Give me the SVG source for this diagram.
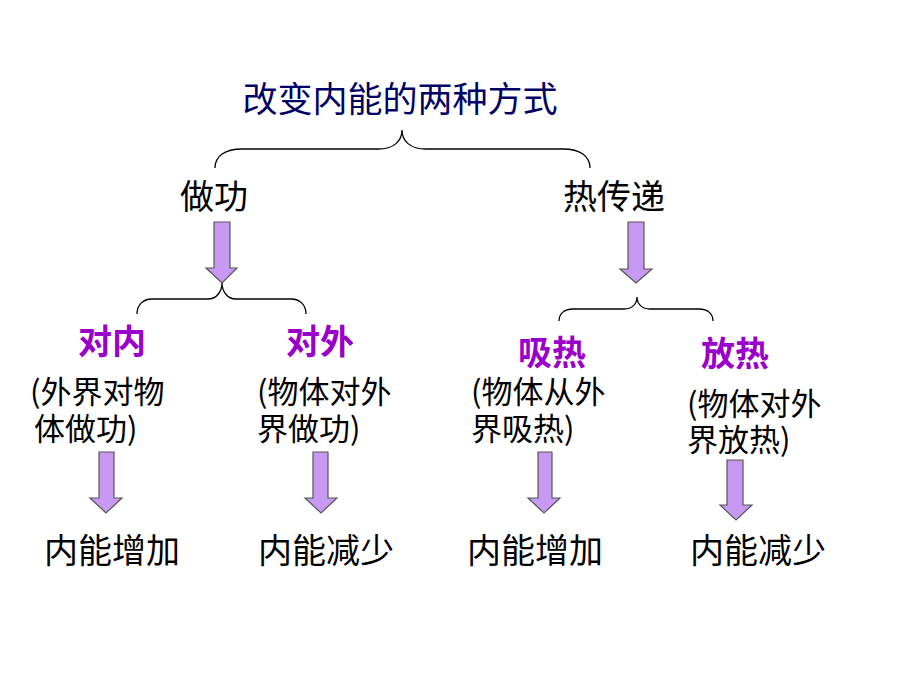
<svg xmlns="http://www.w3.org/2000/svg" width="920" height="690" viewBox="0 0 920 690">
<style>
text{font-family:"Noto Sans CJK SC","Noto Sans",sans-serif;}
.title{font-size:35px;fill:#000066;}
.main{font-size:34px;fill:#000;}
.sub{font-size:34px;fill:#9900CC;font-weight:bold;}
.note{font-size:31px;fill:#000;}
.res{font-size:34px;fill:#000;}
.brace{fill:none;stroke:#000;stroke-width:1.3;}
.arrow{fill:#C899F2;stroke:#555;stroke-width:1.2;}
</style>
<rect width="920" height="690" fill="#fff"/>
<g id="title"><text class="title" x="400" y="112" text-anchor="middle">改变内能的两种方式</text></g>
<g id="zuogong"><text class="main" x="214" y="209" text-anchor="middle">做功</text></g>
<g id="rechuandi"><text class="main" x="614" y="209" text-anchor="middle">热传递</text></g>
<g id="duinei"><text class="sub" x="112" y="354" text-anchor="middle">对内</text><text class="note" x="30" y="403">(外界对物</text><text class="note" x="34" y="440">体做功)</text></g>
<g id="duiwai"><text class="sub" x="320" y="354" text-anchor="middle">对外</text><text class="note" x="257" y="403">(物体对外</text><text class="note" x="257" y="440">界做功)</text></g>
<g id="xire"><text class="sub" x="552" y="365" text-anchor="middle">吸热</text><text class="note" x="471" y="403">(物体从外</text><text class="note" x="471" y="440">界吸热)</text></g>
<g id="fangre"><text class="sub" x="735" y="366" text-anchor="middle">放热</text><text class="note" x="687" y="415">(物体对外</text><text class="note" x="687" y="451">界放热)</text></g>
<g id="res1"><text class="res" x="112" y="563" text-anchor="middle">内能增加</text></g>
<g id="res2"><text class="res" x="326" y="563" text-anchor="middle">内能减少</text></g>
<g id="res3"><text class="res" x="535" y="563" text-anchor="middle">内能增加</text></g>
<g id="res4"><text class="res" x="758" y="563" text-anchor="middle">内能减少</text></g>
<g id="connectors">
<path class="brace" d="M215,168 C215,156 225,149 242,149 L378,149 C394,149 402,141 402,130 C402,141 410,149 426,149 L563,149 C580,149 590,156 590,168"/>
<path class="brace" d="M137,314 C137,305 143,299 152,299 L208,299 C217,299 222,291 222,283 C222,291 227,299 236,299 L291,299 C300,299 306,305 306,314"/>
<path class="brace" d="M559,321 C559,314 564,309 573,309 L624,309 C632,309 637,304 637,297 C637,304 642,309 650,309 L699,309 C708,309 713,314 713,321"/>
<path class="arrow" d="M214,222 L230,222 L230,268 L237,268 L222,283 L206,268 L214,268 Z"/>
<path class="arrow" d="M628,222 L644,222 L644,269 L652,269 L636,283 L620,269 L628,269 Z"/>
<path class="arrow" d="M99,452 L114,452 L114,498 L122,498 L106,513 L90,498 L99,498 Z"/>
<path class="arrow" d="M313,452 L328,452 L328,498 L337,498 L321,513 L305,498 L313,498 Z"/>
<path class="arrow" d="M538,452 L552,452 L552,498 L560,498 L544,513 L528,498 L538,498 Z"/>
<path class="arrow" d="M727,460 L743,460 L743,505 L752,505 L736,520 L720,505 L727,505 Z"/>
</g>
</svg>
